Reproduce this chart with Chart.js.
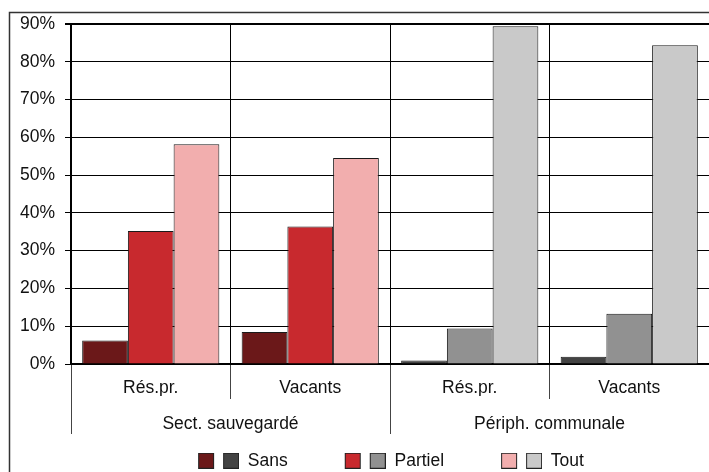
<!DOCTYPE html>
<html>
<head>
<meta charset="utf-8">
<script src="https://cdn.jsdelivr.net/npm/chart.js@4.4.1/dist/chart.umd.min.js"></script>
<style>
  html, body { margin:0; padding:0; background:#fff; }
  #wrap { width:709px; height:472px; }
</style>
</head>
<body>
<div id="wrap"><canvas id="chart" width="709" height="472"></canvas></div>
<script>
// parts des logements selon le niveau de travaux (Sans / Partiel / Tout)
const zones = ['Sect. sauvegardé', 'Périph. communale'];
const types = ['Rés.pr.', 'Vacants', 'Rés.pr.', 'Vacants'];
const seriesNames = ['Sans', 'Partiel', 'Tout'];
const sans    = [6.2, 8.5, 0.9, 1.9];
const partiel = [35.2, 36.4, 9.4, 13.3];
const tout    = [58.2, 54.5, 89.4, 84.4];
const yMax = 90;
const yStep = 10;

// rouges pour le secteur sauvegardé, gris pour la périphérie
const redShades  = ['#6B1819', '#C8292E', '#F2AEAE'];
const greyShades = ['#434343', '#919191', '#C9C9C9'];

Chart.defaults.font.family = '"Liberation Sans", Arial, sans-serif';
Chart.defaults.font.size = 17.5;
Chart.defaults.color = '#111';

// pastille de légende : deux carrés (rouge + gris), calés à droite
// la marge transparente à gauche sert d'espacement entre les entrées
const SWATCH_W = 93;
function pairSwatch(c1, c2) {
    const cv = document.createElement('canvas');
    cv.width = SWATCH_W; cv.height = 16;
    const g = cv.getContext('2d');
    const x0 = SWATCH_W - 41;
    [[x0, c1], [x0 + 25, c2]].forEach(([x, c]) => {
        g.fillStyle = c;
        g.fillRect(x, 0, 16, 16);
        g.strokeStyle = '#222';
        g.lineWidth = 1;
        g.strokeRect(x + 0.5, 0.5, 15, 15);
    });
    return cv;
}
const swatches = seriesNames.map((_, i) => pairSwatch(redShades[i], greyShades[i]));

const frame = {
    id: 'frame',
    beforeDraw(chart) {
        const ctx = chart.ctx;
        ctx.save();
        ctx.strokeStyle = '#333';
        ctx.lineWidth = 1.5;
        ctx.strokeRect(9.5, 12.5, chart.width + 20, chart.height + 20);
        ctx.restore();
    }
};

const values = [sans, partiel, tout];
const datasets = seriesNames.map((name, i) => ({
    label: name,
    data: values[i],
    backgroundColor: [redShades[i], redShades[i], greyShades[i], greyShades[i]],
    borderColor: '#1a1a1a',
    borderWidth: 1,
    categoryPercentage: 0.86,
    barPercentage: 1
}));

new Chart(document.getElementById('chart'), {
    type: 'bar',
    data: { labels: types, datasets },
    plugins: [frame],
    options: {
        responsive: false,
        animation: false,
        devicePixelRatio: 1,
        layout: { padding: { top: 24, left: 19, right: -2, bottom: -7.5 } },
        plugins: {
            tooltip: { enabled: false },
            legend: {
                position: 'bottom',
                labels: {
                    usePointStyle: true,
                    pointStyleWidth: SWATCH_W,
                    padding: 5,
                    color: '#111',
                    generateLabels: () => seriesNames.map((name, i) => ({
                        text: name,
                        pointStyle: swatches[i],
                        fillStyle: redShades[i],
                        strokeStyle: '#222',
                        lineWidth: 1,
                        hidden: false,
                        datasetIndex: i,
                        fontColor: '#111'
                    }))
                }
            }
        },
        scales: {
            x: {
                position: 'bottom',
                weight: 0,
                grid: { offset: true, color: '#000', lineWidth: 1, tickLength: 35, tickColor: '#444' },
                border: { color: '#000', width: 2 },
                ticks: { padding: -21.5, maxRotation: 0, autoSkip: false },
                afterFit(s) { s.height = 32; }
            },
            x2: {
                type: 'category',
                labels: zones,
                position: 'bottom',
                weight: 1,
                offset: true,
                grid: { offset: true, drawOnChartArea: false, tickLength: 38, tickColor: '#444' },
                border: { display: false },
                ticks: { padding: -20.5, maxRotation: 0, autoSkip: false },
                afterFit(s) { s.height = 51; }
            },
            y: {
                min: 0,
                max: yMax,
                ticks: { stepSize: yStep, padding: 10, callback: v => v + '%' },
                grid: {
                    color: '#000',
                    lineWidth: c => (c.tick && c.tick.value === yMax ? 2 : 1),
                    tickLength: 6,
                    tickColor: '#000'
                },
                border: { color: '#000', width: 2 },
                afterFit(s) { s.width = 52; }
            }
        }
    }
});
</script>
</body>
</html>
